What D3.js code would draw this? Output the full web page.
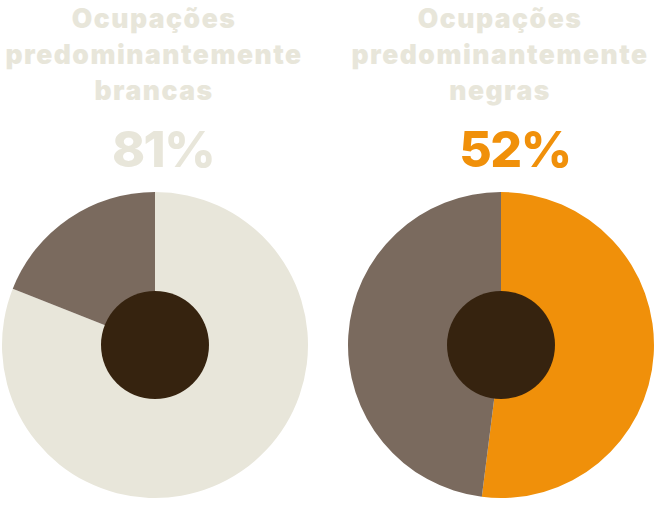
<!DOCTYPE html>
<html><head><meta charset="utf-8">
<script src="https://cdn.jsdelivr.net/npm/d3@7"></script>
<style>html,body{margin:0;padding:0;background:#fff;}svg{display:block;}</style>
</head><body>
<svg id="c" width="656" height="520"></svg>
<script>
const titles = [["Ocupações","predominantemente","brancas"],["Ocupações","predominantemente","negras"]];
const percentLabels = ["81%","52%"];
const highlightValues = [81, 52];
const restValues = [19, 48];
const highlightColors = ["#e8e6da","#f0900a"];
const restColor = "#7a6a5e";
const holeColor = "#36230f";
const titleColor = "#e8e6da";

const svg = d3.select("#c");
const centers = d3.scalePoint().domain([0,1]).range([155,501]);
const cy = 345, R = 153, r0 = 54;
const pie = d3.pie().sort(null).value(d=>d.v);
const arc = d3.arc().innerRadius(0).outerRadius(R);

[0,1].forEach(i=>{
  const cx = centers(i);
  const g = svg.append("g").attr("transform",`translate(${cx},${cy})`);
  const data = [{v:highlightValues[i], c:highlightColors[i]},{v:restValues[i], c:restColor}];
  g.selectAll("path").data(pie(data)).join("path").attr("d",arc).attr("fill",d=>d.data.c);
  g.append("circle").attr("r",r0).attr("fill",holeColor);

  const t = svg.append("g").attr("transform",`translate(${cx-1},0)`);
  titles[i].forEach((s,k)=>{
    t.append("text").attr("x",0).attr("y",28+36*k).attr("text-anchor","middle")
      .attr("font-family","Inter, 'Noto Sans', sans-serif").attr("font-weight",900)
      .attr("font-size",26.5).attr("letter-spacing",1.5).attr("fill",titleColor).text(s);
  });
  svg.append("text").attr("x",cx+(i?14:8)).attr("y",167).attr("text-anchor","middle")
    .attr("font-family","Inter, 'Noto Sans', sans-serif").attr("font-weight",800)
    .attr("font-size",50).attr("letter-spacing",-1.5).attr("fill",highlightColors[i]).text(percentLabels[i]);
});
</script>
</body></html>
